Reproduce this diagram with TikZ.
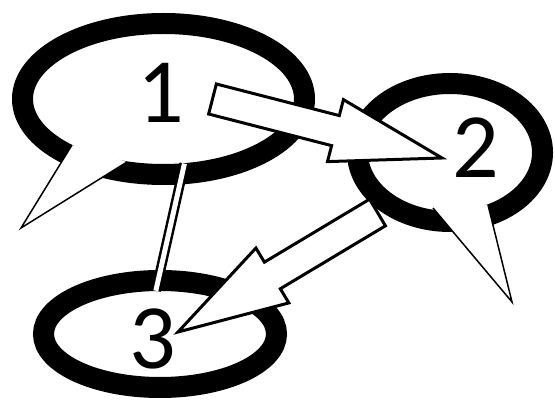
\documentclass[tikz,border=0pt]{standalone}
\usepackage{fontspec}
\setmainfont{Carlito}
\usetikzlibrary{shapes.geometric, calc}

\begin{document}
\begin{tikzpicture}[x=1pt, y=-1pt,
    bubble/.style={draw, ellipse, line width=21pt, inner sep=0pt, outer sep=0pt},
    digit/.style={font=\fontsize{92}{92}\selectfont, inner sep=0pt},
    tail/.style={draw, fill=white, line width=1.5pt},
    link/.style={draw, line width=2.5pt, double=white, double distance=5pt, shorten <=-10.5pt, shorten >=-10.5pt},
    fatarrow/.style={draw, fill=white, line width=3pt, line join=miter}]
    \useasboundingbox (0,0) rectangle (555,403);

    \node (One) [bubble, minimum width=282pt, minimum height=151pt, label={[digit, xshift=-2.5pt, yshift=6pt]center:1}] at (163.5,99) {};
    \node (Two) [bubble, minimum width=185pt, minimum height=138pt, node distance=286.5pt, right of=One, yshift=-53.5pt, label={[digit, xshift=26pt, yshift=4.5pt]center:2}] {};
    \node (Three) [bubble, minimum width=233pt, minimum height=107pt, node distance=235pt, below of=One, xshift=-3.5pt, label={[digit, xshift=-7pt, yshift=-5pt]center:3}] {};

    % tails of the bubbles
    \draw[tail] ($(One.center)+(-91.5,46)$) -- ($(One.center)+(-142.5,129)$) -- ($(One.center)+(-36.5,63)$);
    \draw[tail] ($(Two.center)+(-17,55.5)$) -- ($(Two.center)+(62,149.5)$) -- ($(Two.center)+(38,52.5)$);

    \draw[link] (One.-76) -- (Three.92);

    \coordinate (OneOut) at ($(One.center)+(49,0)$);
    \coordinate (TwoIn) at ($(Two.center)+(-8,5.5)$);
    \coordinate (TwoOut) at ($(Two.center)+(-72.5,60)$);
    \coordinate (ThreeIn) at ($(Three.center)+(18,-2)$);

    \foreach \src/\dst in {OneOut/TwoIn, TwoOut/ThreeIn} {
        \coordinate (head) at ($(\dst)!110pt!(\src)$);
        \draw[fatarrow] ($(\src)!15.5pt!90:(\dst)$) -- ($(head)!15.5pt!90:(\dst)$) -- ($(head)!32pt!90:(\dst)$) -- (\dst)
            -- ($(head)!32pt!-90:(\dst)$) -- ($(head)!15.5pt!-90:(\dst)$) -- ($(\src)!15.5pt!-90:(\dst)$) -- cycle;
    }
\end{tikzpicture}
\end{document}
